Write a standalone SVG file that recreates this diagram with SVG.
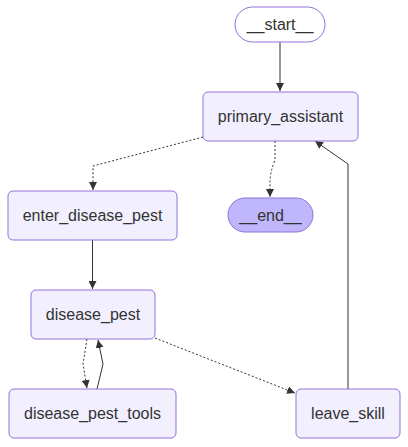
<svg xmlns="http://www.w3.org/2000/svg" width="408" height="447" viewBox="0 0 408 447">
<style>
.node rect{fill:#f2f0ff;stroke:#9370DB;stroke-width:1}
#start rect{fill:#ffffff}
#end rect{fill:#bfb6fc}
text{font-family:"Liberation Sans",Arial,sans-serif;font-size:16px;fill:#333333;text-anchor:middle;dominant-baseline:central}
.edge{fill:none;stroke:#333333;stroke-width:1}
.dot{stroke-dasharray:2 2}
</style>
<defs>
<marker id="arr" viewBox="0 0 10 10" refX="10" refY="5" markerWidth="8" markerHeight="8" markerUnits="userSpaceOnUse" orient="auto">
<path d="M0,0 L10,5 L0,10 z" fill="#333333"/>
</marker>
</defs>
<rect width="408" height="447" fill="#ffffff"/>
<g id="edges">
<path class="edge" d="M280,42 L280,91" marker-end="url(#arr)"/>
<path class="edge dot" d="M203,137 L93,166 L93,190" marker-end="url(#arr)"/>
<path class="edge dot" d="M275,141 L275,160 Q270,172 270,182 L270,197" marker-end="url(#arr)"/>
<path class="edge" d="M348,389 L348,164 L315,141" marker-end="url(#arr)"/>
<path class="edge" d="M92.5,240 L92.5,289" marker-end="url(#arr)"/>
<path class="edge dot" d="M87,339 L83,364 L87,388" marker-end="url(#arr)"/>
<path class="edge" d="M97,389 L103,364 L98,340" marker-end="url(#arr)"/>
<path class="edge dot" d="M155,338 L295,393" marker-end="url(#arr)"/>
</g>
<g id="start" class="node"><rect x="235" y="7" width="90" height="35" rx="17.5"/><text x="280" y="24.5">__start__</text></g>
<g id="primary_assistant" class="node"><rect x="203" y="92" width="155" height="49" rx="5"/><text x="280.5" y="116.5">primary_assistant</text></g>
<g id="enter_disease_pest" class="node"><rect x="8" y="191" width="169" height="49" rx="5"/><text x="92.5" y="215.5">enter_disease_pest</text></g>
<g id="end" class="node"><rect x="228" y="198" width="85" height="34" rx="17"/><text x="270.5" y="215">__end__</text></g>
<g id="disease_pest" class="node"><rect x="31" y="290" width="124" height="49" rx="5"/><text x="93" y="314.5">disease_pest</text></g>
<g id="disease_pest_tools" class="node"><rect x="9" y="389" width="167" height="49" rx="5"/><text x="92.5" y="413.5">disease_pest_tools</text></g>
<g id="leave_skill" class="node"><rect x="296" y="389" width="104" height="49" rx="5"/><text x="348" y="413.5">leave_skill</text></g>
</svg>
